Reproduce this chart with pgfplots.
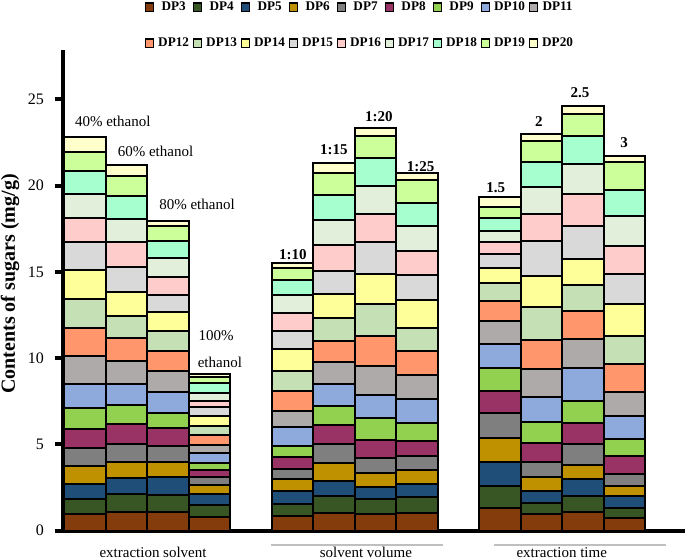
\documentclass[border=0pt]{standalone}
\usepackage{pgfplots}
\usepackage{pgfplotstable}
\pgfplotsset{compat=1.18}
\usepackage{fontspec}
\setmainfont{Liberation Serif}

\definecolor{c3}{HTML}{843C0C}
\definecolor{c4}{HTML}{375623}
\definecolor{c5}{HTML}{1F4E79}
\definecolor{c6}{HTML}{BF9000}
\definecolor{c7}{HTML}{7F7F7F}
\definecolor{c8}{HTML}{993366}
\definecolor{c9}{HTML}{92D050}
\definecolor{c10}{HTML}{8EA9DB}
\definecolor{c11}{HTML}{AEAAAA}
\definecolor{c12}{HTML}{FF966C}
\definecolor{c13}{HTML}{C5E0B4}
\definecolor{c14}{HTML}{FFFF99}
\definecolor{c15}{HTML}{D9D9D9}
\definecolor{c16}{HTML}{FFCCCC}
\definecolor{c17}{HTML}{E2EFDA}
\definecolor{c18}{HTML}{A6FFCF}
\definecolor{c19}{HTML}{CCFF99}
\definecolor{c20}{HTML}{FFFFCC}

\pgfplotstableread{
pos  DP3  DP4  DP5  DP6  DP7  DP8  DP9  DP10 DP11 DP12 DP13 DP14 DP15 DP16 DP17 DP18 DP19 DP20
0  0.93 0.91 0.87 1.02 1.05 1.08 1.24 1.37 1.64 1.63 1.70 1.68 1.64 1.38 1.39 1.31 1.14 0.84
1  1.10 1.03 0.91 0.96 1.03 1.12 1.14 1.22 1.31 1.34 1.31 1.39 1.41 1.49 1.32 1.31 1.20 0.62
2  1.10 0.97 1.02 0.91 0.93 1.01 0.87 1.25 1.22 1.16 1.16 1.06 1.01 1.03 1.10 1.02 0.87 0.29
3  0.81 0.68 0.64 0.52 0.44 0.41 0.39 0.58 0.50 0.58 0.54 0.58 0.50 0.35 0.45 0.58 0.34 0.20
5  0.83 0.68 0.77 0.68 0.62 0.67 0.68 1.06 0.97 1.16 1.12 1.26 1.10 1.03 1.02 0.87 0.72 0.25
6  1.02 0.97 0.91 0.99 1.14 1.08 1.14 1.26 1.25 1.26 1.32 1.39 1.35 1.47 1.45 1.45 1.30 0.58
7  0.93 0.91 0.67 0.80 0.87 1.06 1.30 1.31 1.68 1.74 1.84 1.78 1.85 1.63 1.60 1.61 1.33 0.41
8  0.99 0.96 0.76 0.79 0.81 0.87 1.07 1.39 1.37 1.43 1.32 1.60 1.45 1.39 1.45 1.32 1.35 0.39
10 1.28 1.33 1.35 1.38 1.49 1.29 1.32 1.35 1.39 1.12 1.03 0.87 0.85 0.67 0.68 0.74 0.63 0.56
11 0.97 0.60 0.71 0.81 0.87 1.09 1.23 1.45 1.65 1.66 1.91 1.80 2.03 1.59 1.56 1.44 1.21 0.43
12 1.06 0.97 0.97 0.79 1.20 1.26 1.29 1.90 1.64 1.64 1.51 1.49 1.93 1.84 1.78 1.64 1.26 0.48
13 0.73 0.58 0.68 0.58 0.68 1.06 0.97 1.39 1.35 1.65 1.64 1.84 1.74 1.60 1.74 1.51 1.63 0.34
}\sugartable

\begin{document}
\begin{tikzpicture}
\path[use as bounding box] (-31.5pt,-14.25pt) rectangle (311pt,265.25pt);
\begin{axis}[
  at={(0,0)}, anchor=south west,
  scale only axis,
  width=311pt, height=240.25pt,
  xmin=-0.53, xmax=14.46,
  ymin=0, ymax=27.87,
  ybar stacked,
  bar width=20.75pt,
  axis x line*=bottom, axis y line*=left,
  axis line style={line width=2pt},
  ytick={0,5,10,15,20,25},
  yticklabels={0,5,10,15,20,25},
  tick align=outside,
  major tick length=4pt,
  ytick style={line width=2pt, black},
  xtick={1.64,6.77,11.49},
  xticklabels={extraction solvent, solvent volume, extraction time},
  xtick style={draw=none},
  x tick label style={font=\fontsize{7.5}{9}\selectfont, yshift=-1pt},
  y tick label style={font=\fontsize{8}{9}\selectfont, xshift=-2pt},
  ylabel={Contents of sugars (mg/g)},
  ylabel style={font=\fontsize{10}{12}\selectfont\bfseries, at={(axis description cs:-0.085,0.513)}, anchor=center},
  clip=false,
  legend columns=9,
  legend style={draw=none, fill=none, at={(axis description cs:0.477,1.11)}, anchor=north,
    font=\fontsize{6.6}{8}\selectfont\bfseries, row sep=8pt, column sep=1.1pt, inner sep=0pt,
    nodes={inner xsep=0.8pt}},
  area legend,
  legend image post style={xscale=0.24, yscale=0.75, line width=0.7pt},
]
\addplot[fill=c3, draw=black, line width=1pt] table[x=pos, y=DP3]{\sugartable};
\addplot[fill=c4, draw=black, line width=1pt] table[x=pos, y=DP4]{\sugartable};
\addplot[fill=c5, draw=black, line width=1pt] table[x=pos, y=DP5]{\sugartable};
\addplot[fill=c6, draw=black, line width=1pt] table[x=pos, y=DP6]{\sugartable};
\addplot[fill=c7, draw=black, line width=1pt] table[x=pos, y=DP7]{\sugartable};
\addplot[fill=c8, draw=black, line width=1pt] table[x=pos, y=DP8]{\sugartable};
\addplot[fill=c9, draw=black, line width=1pt] table[x=pos, y=DP9]{\sugartable};
\addplot[fill=c10, draw=black, line width=1pt] table[x=pos, y=DP10]{\sugartable};
\addplot[fill=c11, draw=black, line width=1pt] table[x=pos, y=DP11]{\sugartable};
\addplot[fill=c12, draw=black, line width=1pt] table[x=pos, y=DP12]{\sugartable};
\addplot[fill=c13, draw=black, line width=1pt] table[x=pos, y=DP13]{\sugartable};
\addplot[fill=c14, draw=black, line width=1pt] table[x=pos, y=DP14]{\sugartable};
\addplot[fill=c15, draw=black, line width=1pt] table[x=pos, y=DP15]{\sugartable};
\addplot[fill=c16, draw=black, line width=1pt] table[x=pos, y=DP16]{\sugartable};
\addplot[fill=c17, draw=black, line width=1pt] table[x=pos, y=DP17]{\sugartable};
\addplot[fill=c18, draw=black, line width=1pt] table[x=pos, y=DP18]{\sugartable};
\addplot[fill=c19, draw=black, line width=1pt] table[x=pos, y=DP19]{\sugartable};
\addplot[fill=c20, draw=black, line width=1pt] table[x=pos, y=DP20]{\sugartable};
\legend{DP3,DP4,DP5,DP6,DP7,DP8,DP9,DP10,DP11,DP12,DP13,DP14,DP15,DP16,DP17,DP18,DP19,DP20}
\node[font=\fontsize{7.5}{9}\selectfont] at (axis cs:0.67,23.75) {40\% ethanol};
\node[font=\fontsize{7.5}{9}\selectfont] at (axis cs:1.70,21.97) {60\% ethanol};
\node[font=\fontsize{7.5}{9}\selectfont] at (axis cs:2.70,18.94) {80\% ethanol};
\node[font=\fontsize{7.5}{9}\selectfont] at (axis cs:3.16,11.28) {100\%};
\node[font=\fontsize{7.5}{9}\selectfont] at (axis cs:3.25,9.77) {ethanol};
\node[font=\fontsize{7.5}{9}\selectfont\bfseries] at (axis cs:5.01,15.98) {1:10};
\node[font=\fontsize{7.5}{9}\selectfont\bfseries] at (axis cs:6.00,22.07) {1:15};
\node[font=\fontsize{7.5}{9}\selectfont\bfseries] at (axis cs:7.08,23.98) {1:20};
\node[font=\fontsize{7.5}{9}\selectfont\bfseries] at (axis cs:8.09,21.10) {1:25};
\node[font=\fontsize{7.5}{9}\selectfont\bfseries] at (axis cs:9.90,19.87) {1.5};
\node[font=\fontsize{7.5}{9}\selectfont\bfseries] at (axis cs:10.94,23.71) {2};
\node[font=\fontsize{7.5}{9}\selectfont\bfseries] at (axis cs:11.93,25.38) {2.5};
\node[font=\fontsize{7.5}{9}\selectfont\bfseries] at (axis cs:12.99,22.48) {3};
\draw[gray!50, line width=1pt] (axis cs:4.48,-0.84) -- (axis cs:8.63,-0.84);
\draw[gray!50, line width=1pt] (axis cs:9.86,-0.84) -- (axis cs:14.0,-0.84);
\end{axis}
\end{tikzpicture}
\end{document}
